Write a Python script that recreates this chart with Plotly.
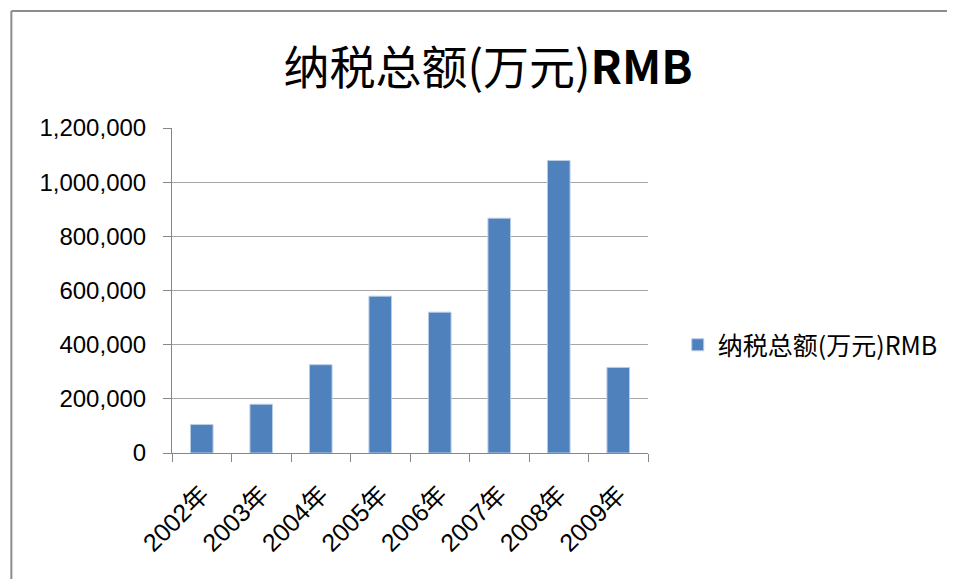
import plotly.graph_objects as go

categories = ["2002年", "2003年", "2004年", "2005年", "2006年", "2007年", "2008年", "2009年"]
values = [105000, 180000, 326000, 579000, 520000, 867000, 1080000, 316000]
series_name = "纳税总额(万元)RMB"
title_text = "纳税总额(万元)<b>RMB</b>"

# the page adds an 8px body margin, so figure coords = screen coords - 8
OFF = 8
W, H = 955 - OFF, 579 - OFF
L, R, T, B = 172 - OFF, 652 - OFF, 128 - OFF, 453 - OFF

def px_x(p):
    return (p - OFF - L) / (R - L)

def px_y(p):
    return (B - (p - OFF)) / (B - T)

fig = go.Figure()
fig.add_trace(go.Bar(
    x=categories, y=values, name=series_name,
    marker=dict(color="#4F81BD", line=dict(color="#B9CDE5", width=1)),
    width=0.38,
))

axis_col = "#868686"
fig.update_layout(
    width=W, height=H,
    margin=dict(l=L, r=W - R, t=T, b=H - B, pad=0),
    paper_bgcolor="white", plot_bgcolor="white",
    font=dict(family="Liberation Sans, Noto Sans CJK SC", color="#000000"),
    title=dict(text=title_text, x=(488 - OFF) / W, xanchor="center",
               y=1 - (68 - OFF) / H, yanchor="middle",
               font=dict(family="Noto Sans CJK SC", size=46, color="#000000")),
    showlegend=True,
    legend=dict(x=px_x(682), y=px_y(345), xanchor="left", yanchor="middle",
                font=dict(family="Noto Sans CJK SC", size=25, color="#000000"),
                bgcolor="rgba(0,0,0,0)"),
    xaxis=dict(
        type="category", showgrid=False, showline=True, linecolor=axis_col, linewidth=1,
        ticks="outside", tickson="boundaries", ticklen=8, tickcolor=axis_col,
        tickangle=-45, ticklabelstandoff=16,
        tickfont=dict(family="Liberation Sans, Noto Sans CJK SC", size=25),
    ),
    yaxis=dict(
        range=[0, 1200000], dtick=200000, tickformat=",",
        showgrid=True, gridcolor="#A6A6A6", gridwidth=1,
        showline=True, linecolor=axis_col, linewidth=1,
        ticks="outside", ticklen=8, tickcolor=axis_col, ticklabelstandoff=12,
        tickfont=dict(family="Liberation Sans", size=24),
        zeroline=False,
    ),
    shapes=[
        dict(type="line", xref="paper", yref="paper",
             x0=px_x(10), x1=px_x(10), y0=px_y(11), y1=px_y(600),
             line=dict(color="#8C8C8C", width=2)),
        dict(type="line", xref="paper", yref="paper",
             x0=px_x(10), x1=px_x(970), y0=px_y(11), y1=px_y(11),
             line=dict(color="#8C8C8C", width=2)),
    ],
)

fig.write_html("out.html")
